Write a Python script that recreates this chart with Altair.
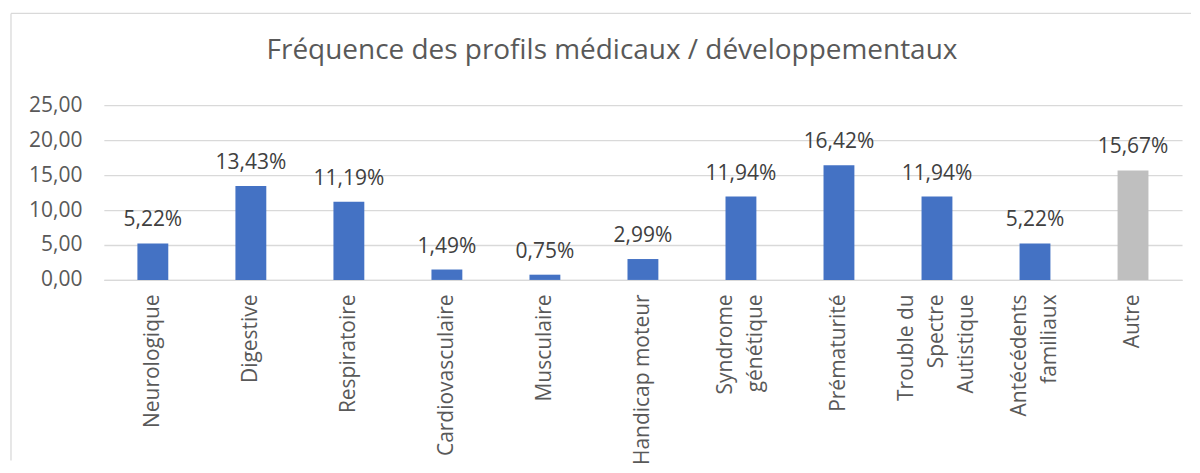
import altair as alt
import pandas as pd

categories = [
    "Neurologique", "Digestive", "Respiratoire", "Cardiovasculaire",
    "Musculaire", "Handicap moteur", "Syndrome|génétique", "Prématurité",
    "Trouble du|Spectre|Autistique", "Antécédents|familiaux", "Autre",
]
values = [5.22, 13.43, 11.19, 1.49, 0.75, 2.99, 11.94, 16.42, 11.94, 5.22, 15.67]
groups = ["profil"] * 10 + ["autre"]
y_ticks = [0, 5, 10, 15, 20, 25]

df = pd.DataFrame({"categorie": categories, "valeur": values, "groupe": groups})

FONT = "Open Sans"
GRID = "#D9D9D9"

base = alt.Chart(df).transform_calculate(
    etiquette="replace(format(datum.valeur, '.2f'), '.', ',') + '%'"
)

x_enc = alt.X(
    "categorie:N",
    sort=None,
    scale=alt.Scale(paddingInner=0.685, paddingOuter=0.3425),
    axis=alt.Axis(
        title=None,
        labelAngle=-90,
        labelExpr="split(datum.label, '|')",
        labelLineHeight=30,
        labelOffset=alt.ExprRef("-(length(split(datum.label, '|')) - 1) * 15"),
        labelPadding=14,
        labelFontSize=21,
        labelFont=FONT,
        labelColor="#595959",
        ticks=False,
        domainColor=GRID,
        domainWidth=1.3,
        grid=False,
        labelLimit=400,
    ),
)

y_enc = alt.Y(
    "valeur:Q",
    scale=alt.Scale(domain=[0, 25], nice=False),
    axis=alt.Axis(
        title=None,
        values=y_ticks,
        labelExpr="replace(format(datum.value, '.2f'), '.', ',')",
        labelFontSize=21,
        labelFont=FONT,
        labelColor="#595959",
        labelPadding=22,
        labelOverlap=False,
        ticks=False,
        domain=False,
        gridColor=GRID,
        gridWidth=1.3,
    ),
)

bars = base.mark_bar().encode(
    x=x_enc,
    y=y_enc,
    color=alt.Color(
        "groupe:N",
        scale=alt.Scale(domain=["profil", "autre"], range=["#4472C4", "#BFBFBF"]),
        legend=None,
    ),
)

labels = base.mark_text(
    baseline="alphabetic", dy=-17, fontSize=21, font=FONT, color="#404040"
).encode(x=x_enc, y=y_enc, text="etiquette:N")

frame_df = pd.DataFrame({"k": [0]})
top_border = alt.Chart(frame_df).mark_rule(color=GRID, strokeWidth=1.3).encode(
    x=alt.value(-93), x2=alt.value(1089), y=alt.value(-92)
)
left_border = alt.Chart(frame_df).mark_rule(color=GRID, strokeWidth=1.3).encode(
    x=alt.value(-93), y=alt.value(-92), y2=alt.value(356)
)

chart = alt.layer(top_border, left_border, bars, labels).properties(
    width=1080,
    height=175,
    padding={"left": 2, "top": 4, "right": 0, "bottom": 0},
    title=alt.TitleParams(
        "Fréquence des profils médicaux / développementaux",
        font=FONT,
        fontSize=28,
        fontWeight="normal",
        color="#595959",
        anchor="middle",
        dx=-31,
        offset=-74,
        baseline="alphabetic",
    ),
).configure_view(stroke=None)

chart.save("out.html", embed_options={"renderer": "svg", "actions": False})
